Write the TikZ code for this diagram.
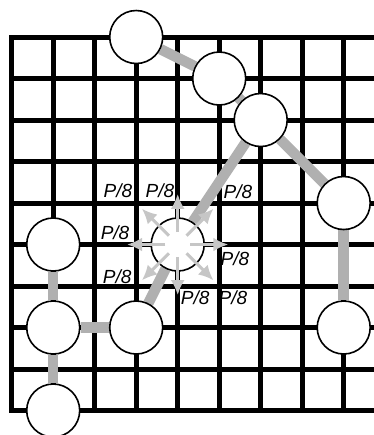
\documentclass[tikz,border=0pt]{standalone}
\usepackage{fontspec}
\setsansfont{Liberation Sans}
\usetikzlibrary{arrows.meta,calc,backgrounds}

\begin{document}
\begin{tikzpicture}[x=41.5pt,y=-41.5pt,
  grid/.style={line width=5pt,line cap=rect},
  cell/.style={circle,draw,line width=1.6pt,fill=white,minimum size=53pt,inner sep=0pt},
  bar/.style={line width=10.5pt,gray!62},
  flow/.style={line width=3pt,gray!45,-{Latex[length=15pt,width=14pt]}},
  lbl/.style={font=\sffamily\itshape\fontsize{19}{19}\selectfont,inner sep=0pt}]
  \useasboundingbox (-0.282,-0.892) rectangle (8.73,9.59);

  % ノード
  \node[cell] (v1) at (3,0) {};
  \node[cell] (v2) at (5,1) {};
  \node[cell] (v3) at (6,2) {};
  \node[cell] (v4) at (8,4) {};
  \node[cell] (v5) at (8,7) {};
  \node[cell] (c) at (4,5) {};
  \node[cell] (v6) at (3,7) {};
  \node[cell] (v7) at (1,5) {};
  \node[cell] (v8) at (1,7) {};
  \node[cell] (v9) at (1,9) {};

  \begin{scope}[on background layer]
    % 格子
    \foreach \i in {0,...,8} \draw[grid] (\i,0) -- (\i,9);
    \foreach \j in {0,...,9} \draw[grid] (0,\j) -- (9,\j);
    % 辺
    \draw[bar] (v1) -- (v2);
    \draw[bar] (v2) -- (v3);
    \draw[bar] (v3) -- (v4);
    \draw[bar] (v4) -- (v5);
    \draw[bar] (v3) -- (c);
    \draw[bar] (c) -- (v6);
    \draw[bar] (v6) -- (v8);
    \draw[bar] (v7) -- (v8);
    \draw[bar] (v8) -- (v9);
  \end{scope}

  % 矢印
  \foreach \a in {0,45,...,315} {
    \coordinate (s\a) at ($(c)+(\a:0.3)$);
    \coordinate (e\a) at ($(c)+(\a:1.22)$);
    \draw[flow] (s\a) -- (e\a);
  }

  % ラベル
  \node[lbl] (p1) at (2.56,3.71) {P/8};
  \node[lbl] (p2) at (3.57,3.71) {P/8};
  \node[lbl] (p3) at (5.45,3.73) {P/8};
  \node[lbl] (p4) at (2.49,4.72) {P/8};
  \node[lbl] (p5) at (5.38,5.33) {P/8};
  \node[lbl] (p6) at (2.54,5.78) {P/8};
  \node[lbl] (p7) at (4.42,6.27) {P/8};
  \node[lbl] (p8) at (5.33,6.27) {P/8};
\end{tikzpicture}
\end{document}
